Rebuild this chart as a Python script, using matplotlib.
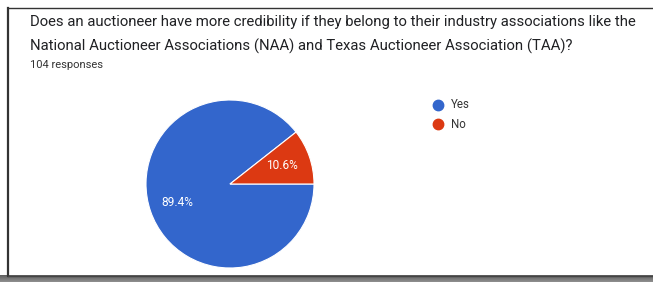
import matplotlib
matplotlib.use("Agg")
import matplotlib.pyplot as plt
from matplotlib.lines import Line2D
import numpy as np

title_lines = ["Does an auctioneer have more credibility if they belong to their industry associations like the",
               "National Auctioneer Associations (NAA) and Texas Auctioneer Association (TAA)?"]
subtitle = "104 responses"
categories = ["Yes", "No"]
values = [89.4, 10.6]
colors = ["#3366CC", "#DC3912"]

W, H = 653, 282
fig = plt.figure(figsize=(W / 100, H / 100), dpi=100)
fig.patch.set_facecolor("white")

def fx(px):
    return px / W

def fy(py):
    return 1 - py / H

# bottom shadow gradient
sh = fig.add_axes([0, 0, 1, 7 / H])
grad = np.linspace(0.38, 0.55, 7).reshape(-1, 1)
sh.imshow(np.repeat(grad, 10, axis=1), cmap="gray", vmin=0, vmax=1, aspect="auto",
          extent=[0, 1, 0, 1], origin="upper")
sh.set_axis_off()

# frame lines
fig.add_artist(Line2D([fx(8), fx(8)], [fy(8), fy(275.5)], color="#333333", lw=1.6, transform=fig.transFigure))
fig.add_artist(Line2D([fx(8), 1], [fy(8), fy(8)], color="#333333", lw=1.0, transform=fig.transFigure))
fig.add_artist(Line2D([fx(8), 1], [fy(275.5), fy(275.5)], color="#444444", lw=1.0, transform=fig.transFigure))

# title
fig.text(fx(30), fy(22), title_lines[0], fontsize=10.7, color="#202124", va="center", ha="left",
         family="Roboto")
fig.text(fx(30), fy(46), title_lines[1], fontsize=10.7, color="#202124", va="center", ha="left",
         family="Roboto")
fig.text(fx(30), fy(65), subtitle, fontsize=8.0, color="#333333", va="center", ha="left",
         family="Roboto")

# pie
cx, cy, r = 230, 184, 84
ax = fig.add_axes([fx(cx - r), fy(cy + r), 2 * r / W, 2 * r / H])
wedges, texts, autotexts = ax.pie(values, colors=colors, startangle=0, counterclock=False,
                                  autopct=lambda p: f"{p:.1f}%", pctdistance=0.66,
                                  wedgeprops=dict(edgecolor="white", linewidth=0.8),
                                  textprops=dict(color="white", fontsize=8.6, family="Roboto"))
ax.set_xlim(-1, 1)
ax.set_ylim(-1, 1)
ax.set_aspect("auto")
ax.set_axis_off()

# legend
for i, (cat, col) in enumerate(zip(categories, colors)):
    y = 105 + i * 19
    fig.add_artist(Line2D([fx(438)], [fy(y)], marker="o", markersize=7.5, color=col, linestyle="none",
                          transform=fig.transFigure))
    fig.text(fx(451), fy(y), cat, fontsize=8.3, color="#333333", va="center", ha="left", family="Roboto")

fig.savefig("out.png", dpi=100, facecolor="white")
